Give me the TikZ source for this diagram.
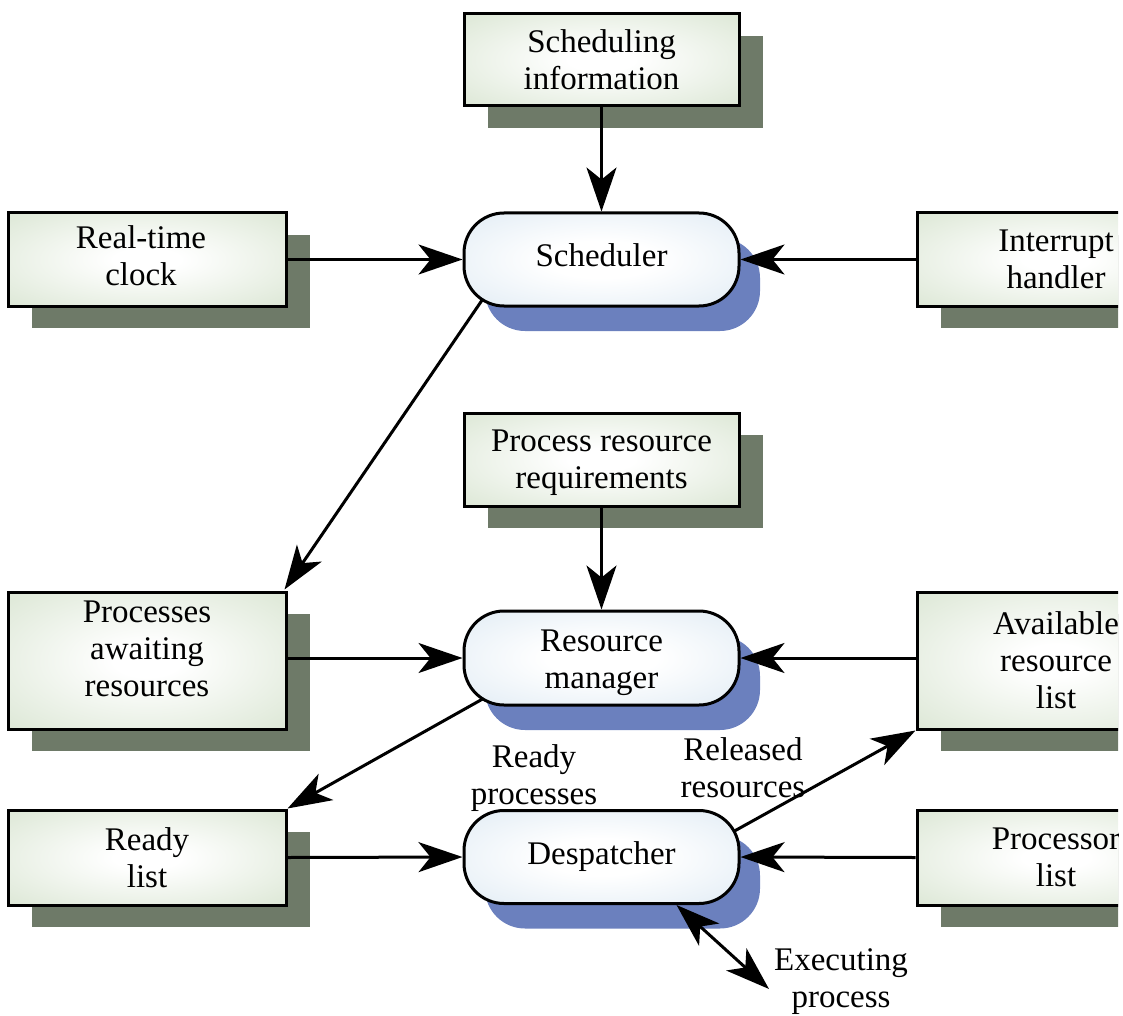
\documentclass[tikz,border=0pt]{standalone}
\usepackage{fontspec}
\setmainfont{Liberation Serif}
\usetikzlibrary{arrows.meta,calc,shadows}
\definecolor{boxedge}{RGB}{204,220,194}
\definecolor{pilledge}{RGB}{210,226,239}
\definecolor{boxshadow}{RGB}{110,122,104}
\definecolor{pillshadow}{RGB}{107,128,190}
\pgfdeclareradialshading{boxfill}{\pgfpoint{0bp}{0bp}}{color(0bp)=(white); color(6bp)=(white); color(50bp)=(boxedge); color(80bp)=(boxedge)}
\pgfdeclareradialshading{pillfill}{\pgfpoint{0bp}{0bp}}{color(0bp)=(white); color(10bp)=(white); color(50bp)=(pilledge); color(80bp)=(pilledge)}

\begin{document}
\begin{tikzpicture}[x=1pt,y=-1pt,
  every node/.style={font=\fontsize{33}{37}\selectfont, align=center, inner sep=0pt},
  box/.style={draw=black, line width=3pt, shading=boxfill,
    general shadow={fill=boxshadow, shadow xshift=24pt, shadow yshift=-22pt},
    minimum width=278pt, minimum height=93pt},
  pill/.style={draw=black, line width=3pt, rounded corners=40pt, shading=pillfill,
    general shadow={fill=pillshadow, shadow xshift=21pt, shadow yshift=-25pt},
    minimum width=275pt, minimum height=93pt},
  flow/.style={line width=3pt, -{Stealth[length=44pt,width=30pt,inset=12pt]}},
  twoway/.style={line width=3pt, {Stealth[length=44pt,width=30pt,inset=12pt]}-{Stealth[length=44pt,width=30pt,inset=12pt]}},
  lbl/.style={}
]
\useasboundingbox (0,0) rectangle (1123,1016);
\clip (0,0) rectangle (1118,1016);

% Scheduling level
\node[box, minimum width=275pt, minimum height=92pt] (schedinfo) at (601.5,60) {Scheduling\\information};
\node[box, label={[xshift=-6pt,yshift=4pt]center:Real-time\\clock}] (clock) at (147,259.5) {};
\node[box] (interrupt) at (1056,259.5) {Interrupt\\handler};
\node[pill, label={[yshift=4pt]center:Scheduler}] (sched) at (601.5,259.5) {};

% Resource management level
\node[box, minimum width=275pt, label={[yshift=-3pt]center:Process resource\\requirements}] (procreq) at (601.5,459.5) {};
\node[box, minimum height=137pt, label={[yshift=12pt]center:Processes\\awaiting\\resources}] (awaiting) at (147,660.5) {};
\node[pill, minimum height=94pt, label={[yshift=-5pt]center:Resource\\manager}] (manager) at (601.5,658) {};
\node[box, minimum height=137pt] (avail) at (1056,660.5) {Available\\resource\\list};

% Despatching level
\node[box, minimum height=95pt] (ready) at (147,857.5) {Ready\\list};
\node[pill] (desp) at (601.5,857) {Despatcher};
\node[box, minimum height=95pt] (proclist) at (1056,857.5) {Processor\\list};

% Free labels
\node[lbl] (readylbl) at (534,778) {Ready\\processes};
\node[lbl] (releasedlbl) at (743,768) {Released\\resources};
\node[lbl] (execlbl) at (841,982) {Executing\\process};
\coordinate (execend) at (769,989);

% Connectors
\draw[flow] (schedinfo) -- (sched);
\draw[flow] (clock.east) -- (sched.west);
\draw[flow] (interrupt.west) -- (sched.east);
\draw[flow] ($(sched.south west)+(20,-8)$) -- ($(awaiting.north east)+(-3,-1)$);

\draw[flow] (procreq) -- (manager);
\draw[flow] (awaiting.east |- manager.west) -- (manager.west);
\draw[flow] (avail.west |- manager.east) -- (manager.east);
\draw[flow] ($(manager.south west)+(21,-8)$) -- (ready.north east);

\draw[flow] (ready.east) -- (desp.west);
\draw[flow] (proclist.west) -- (desp.east);
\draw[flow] ($(desp.north east)+(-6,22)$) -- (avail.south west);
\draw[twoway] ($(desp.south)+(75,0)$) -- (execend);
\end{tikzpicture}
\end{document}
